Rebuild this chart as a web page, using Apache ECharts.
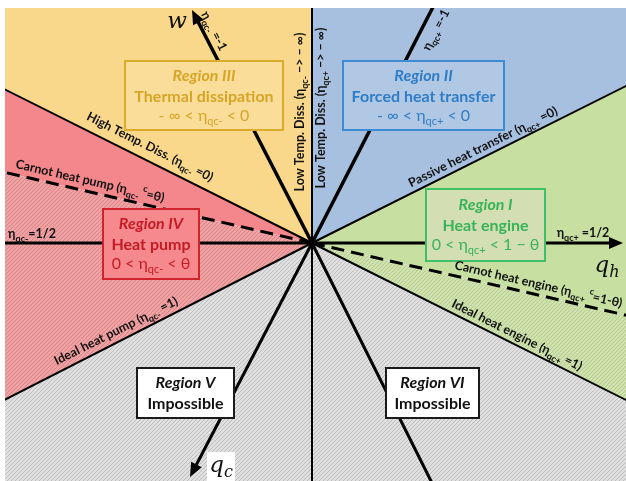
<!DOCTYPE html>
<html>
<head>
<meta charset="utf-8">
<script src="https://cdn.jsdelivr.net/npm/echarts@6/dist/echarts.min.js"></script>
<style>
  html, body { margin: 0; padding: 0; background: #ffffff; }
  #chart { width: 626px; height: 481px; }
</style>
</head>
<body>
<div id="chart"></div>
<script>
// Energy plane: every process line starts at the origin (q_h = 0, w = 0).
// One plane unit is drawn as 100 px in both directions.
const xExtent = [-3.07, 3.14];
const yExtent = [-2.38, 2.35];

// Process lines (end points in plane units; lines running off the plane are clipped)
const rayIds  = ['w', 'etaPlusNeg1', 'qc', 'lowerRight', 'qh', 'etaMinusHalf', 'lowTempDiss', 'lowerMid',
                 'highTempDiss', 'passive', 'carnotPump', 'carnotEngine', 'idealPump', 'idealEngine'];
const rayEndX = [-1.20, 2.42, -1.22, 2.38, 3.11, -4.00, 0.00, 0.00, -4.00, 4.00, -4.00, 4.00, -4.00, 4.00];
const rayEndY = [ 2.33, 4.72, -2.34, -4.76, 0.00, 0.00, 4.00, -4.00, 2.00, 2.00, 0.92, -0.92, -2.04, -2.00];

// Operating regions, each a sector swept counter-clockwise from one line to another
const regionIds   = ['thermalDissipation', 'forcedHeatTransfer', 'heatEngine', 'heatEngineBeyondCarnot',
                     'heatPump', 'heatPumpBeyondCarnot', 'impossible'];
const regionFrom  = ['lowTempDiss', 'passive', 'carnotEngine', 'idealEngine', 'highTempDiss', 'carnotPump', 'idealPump'];
const regionTo    = ['highTempDiss', 'lowTempDiss', 'passive', 'carnotEngine', 'carnotPump', 'idealPump', 'idealEngine'];

// Line labels ({...} = subscript, [...] = superscript)
const lineLabels = [
  'η{qc-} =-1',
  'η{qc+} =-1',
  'Low Temp. Diss. (η{qc-} –> – ∞)',
  'Low Temp. Diss. (η{qc+} –> – ∞)',
  'High Temp. Diss. (η{qc-} =0)',
  'Carnot heat pump (η{qc-} [c]=θ)',
  'η{qc-}=1/2',
  'Ideal heat pump (η{qc-} =1)',
  'Passive heat transfer (η{qc+} =0)',
  'η{qc+} =1/2',
  'Carnot heat engine (η{qc+} [c]=1-θ)',
  'Ideal heat engine (η{qc+} =1)'
];

// Region boxes: title, name, efficiency range
const boxTitles = ['Region III', 'Region II', 'Region IV', 'Region I', 'Region V', 'Region VI'];
const boxNames  = ['Thermal dissipation', 'Forced heat transfer', 'Heat pump', 'Heat engine', 'Impossible', 'Impossible'];
const boxRanges = ['- ∞ < η{qc-} < 0', '- ∞ < η{qc+} < 0', '0 < η{qc-} < θ', '0 < η{qc+} < 1 − θ', '', ''];

// ---------- layout & styling ----------
const labelLayout = [
  { x: -0.98, y: 2.12, rot: -62.7 },
  { x:  1.24, y: 2.13, rot:  62.7 },
  { x: -0.12, y: 1.31, rot:  90 },
  { x:  0.09, y: 1.35, rot:  90 },
  { x: -1.62, y: 0.96, rot: -26.6 },
  { x: -2.22, y: 0.62, rot: -13 },
  { x: -2.80, y: 0.09, rot:   0 },
  { x: -1.96, y: -0.88, rot: 26.6 },
  { x:  1.71, y: 0.96, rot:  26.6 },
  { x:  2.71, y: 0.10, rot:   0 },
  { x:  1.43, y: -0.22, rot: -13, align: 'left' },
  { x:  2.05, y: -0.92, rot: -26.6 }
];

const boxLayout = [
  { x: -1.08,  y: 1.475, w: 158, h: 69, fill: '#fbdd9a', stroke: '#dbab2c', text: '#d6a526' },
  { x:  1.115, y: 1.475, w: 161, h: 69, fill: '#b1c8e5', stroke: '#3d8bd3', text: '#2f7dc6' },
  { x: -1.61,  y: -0.01, w: 96,  h: 70, fill: '#f5898d', stroke: '#d0232b', text: '#c41b24' },
  { x:  1.735, y: 0.18,  w: 119, h: 72, fill: '#d3dfb3', stroke: '#3fbf66', text: '#38b35a' },
  { x: -1.265, y: -1.50, w: 97,  h: 50, fill: '#ffffff', stroke: '#1a1a1a', text: '#111111' },
  { x:  1.205, y: -1.50, w: 93,  h: 50, fill: '#ffffff', stroke: '#1a1a1a', text: '#111111' }
];

const rayStyle = {
  w:            { width: 3.5, arrow: true },
  etaPlusNeg1:  { width: 3.5 },
  qc:           { width: 3, arrow: true },
  lowerRight:   { width: 3 },
  qh:           { width: 3, arrow: true },
  etaMinusHalf: { width: 3 },
  lowTempDiss:  { width: 2 },
  lowerMid:     { width: 2 },
  highTempDiss: { width: 2 },
  passive:      { width: 2 },
  carnotPump:   { width: 3, dash: [13, 7] },
  carnotEngine: { width: 3, dash: [13, 7] },
  idealPump:    { width: 2 },
  idealEngine:  { width: 2 }
};

function hatch(bg, fg) {
  const n = 4;
  const c = document.createElement('canvas');
  c.width = n; c.height = n;
  const g = c.getContext('2d');
  g.fillStyle = bg; g.fillRect(0, 0, n, n);
  g.fillStyle = fg;
  for (let k = 0; k < n; k++) {
    g.fillRect(k, n - 1 - k, 1, 1);
  }
  return { image: c, repeat: 'repeat' };
}

const regionFill = {
  thermalDissipation:     '#f9d88b',
  forcedHeatTransfer:     '#a8c0df',
  heatEngine:             '#c7e0a1',
  heatEngineBeyondCarnot: hatch('#cfe2ae', '#b4cb92'),
  heatPump:               '#f3878b',
  heatPumpBeyondCarnot:   hatch('#eea2a4', '#dc8386'),
  impossible:             hatch('#e0e0e0', '#bdbdbd')
};

const SANS = 'Lato, "Open Sans", sans-serif';
const SERIF = '"DejaVu Serif", "Liberation Serif", serif';

// Turn the small markup into ECharts rich text
function richText(markup) {
  let out = '', buf = '', mode = 'm';
  const flush = () => { if (buf) out += '{' + mode + '|' + buf + '}'; buf = ''; };
  for (const ch of markup) {
    if (ch === '{') { flush(); mode = 's'; }
    else if (ch === '[') { flush(); mode = 'p'; }
    else if (ch === '}' || ch === ']') { flush(); mode = 'm'; }
    else buf += ch;
  }
  flush();
  return out;
}

function richStyles(size, weight, color, family, italic) {
  const sub = Math.round(size * 0.68);
  const base = { fontFamily: family, fontWeight: weight, fontStyle: italic ? 'italic' : 'normal', fill: color };
  return {
    m: Object.assign({}, base, { fontSize: size, lineHeight: size + 6 }),
    s: Object.assign({}, base, { fontSize: sub, lineHeight: sub, verticalAlign: 'bottom' }),
    p: Object.assign({}, base, { fontSize: sub, lineHeight: sub, verticalAlign: 'top' })
  };
}

function rayAngle(id) {
  const i = rayIds.indexOf(id);
  return Math.atan2(rayEndY[i], rayEndX[i]) * 180 / Math.PI;
}

const chart = echarts.init(document.getElementById('chart'));

chart.setOption({
  animation: false,
  backgroundColor: '#ffffff',
  grid: { left: 5, top: 8, right: 0, bottom: 0 },
  xAxis: { type: 'value', min: xExtent[0], max: xExtent[1], show: false },
  yAxis: { type: 'value', min: yExtent[0], max: yExtent[1], show: false },
  series: [
    {
      // region fills
      type: 'custom',
      clip: true,
      silent: true,
      data: regionIds.map((_, i) => [i, 0]),
      renderItem(params, api) {
        const i = params.dataIndex;
        let a0 = rayAngle(regionFrom[i]);
        let a1 = rayAngle(regionTo[i]);
        if (a1 <= a0) a1 += 360;
        const R = 10;
        const pts = [api.coord([0, 0])];
        for (let t = a0; t < a1; t += 4) {
          const r = t * Math.PI / 180;
          pts.push(api.coord([R * Math.cos(r), R * Math.sin(r)]));
        }
        const r1 = a1 * Math.PI / 180;
        pts.push(api.coord([R * Math.cos(r1), R * Math.sin(r1)]));
        return { type: 'polygon', shape: { points: pts }, style: { fill: regionFill[regionIds[i]] } };
      }
    },
    {
      // process lines and axes
      type: 'custom',
      clip: true,
      silent: true,
      data: rayIds.map((_, i) => [rayEndX[i], rayEndY[i]]),
      renderItem(params, api) {
        const i = params.dataIndex;
        const st = rayStyle[rayIds[i]];
        const o = api.coord([0, 0]);
        const e = api.coord([rayEndX[i], rayEndY[i]]);
        const dx = e[0] - o[0], dy = e[1] - o[1];
        const len = Math.hypot(dx, dy);
        const ux = dx / len, uy = dy / len;
        const children = [];
        const headLen = 14, headHalf = 6;
        const end = st.arrow ? [e[0] - ux * headLen * 0.7, e[1] - uy * headLen * 0.7] : e;
        children.push({
          type: 'line',
          shape: { x1: o[0], y1: o[1], x2: end[0], y2: end[1] },
          style: { stroke: '#000000', lineWidth: st.width, lineDash: st.dash || null, fill: null }
        });
        if (st.arrow) {
          const bx = e[0] - ux * headLen, by = e[1] - uy * headLen;
          children.push({
            type: 'polygon',
            shape: { points: [e, [bx - uy * headHalf, by + ux * headHalf], [bx + uy * headHalf, by - ux * headHalf]] },
            style: { fill: '#000000' }
          });
        }
        return { type: 'group', children };
      }
    },
    {
      // region boxes
      type: 'custom',
      silent: true,
      data: boxTitles.map((_, i) => [boxLayout[i].x, boxLayout[i].y]),
      renderItem(params, api) {
        const i = params.dataIndex;
        const L = boxLayout[i];
        const c = api.coord([L.x, L.y]);
        const children = [{
          type: 'rect',
          shape: { x: c[0] - L.w / 2, y: c[1] - L.h / 2, width: L.w, height: L.h },
          style: { fill: L.fill, stroke: L.stroke, lineWidth: 2 }
        }];
        const three = !!boxRanges[i];
        const offs = three ? [-20, 1, 20] : [-10, 11];
        const lines = [
          { t: boxTitles[i], size: 16, weight: 'bold', italic: true },
          { t: boxNames[i], size: 16, weight: 'bold', italic: false }
        ];
        if (three) lines.push({ t: boxRanges[i], size: 16, weight: 'normal', italic: false });
        lines.forEach((ln, k) => {
          children.push({
            type: 'text',
            x: c[0], y: c[1] + offs[k],
            style: {
              text: richText(ln.t),
              rich: richStyles(ln.size, ln.weight, L.text, SANS, ln.italic),
              align: 'center', verticalAlign: 'middle'
            }
          });
        });
        return { type: 'group', children };
      }
    },
    {
      // line labels
      type: 'custom',
      silent: true,
      data: lineLabels.map((_, i) => [labelLayout[i].x, labelLayout[i].y]),
      renderItem(params, api) {
        const i = params.dataIndex;
        const L = labelLayout[i];
        const c = api.coord([L.x, L.y]);
        return {
          type: 'text',
          x: c[0], y: c[1],
          rotation: L.rot * Math.PI / 180,
          style: {
            text: richText(lineLabels[i]),
            rich: richStyles(12.5, 'bold', '#111111', SANS, false),
            align: L.align || 'center', verticalAlign: 'middle'
          }
        };
      }
    },
    {
      // axis names
      type: 'custom',
      silent: true,
      data: [[-1.35, 2.21], [2.95, -0.23], [-0.91, -2.23]],
      renderItem(params, api) {
        const names = ['w', 'q{h}', 'q{c}'];
        const i = params.dataIndex;
        const c = api.coord([api.value(0), api.value(1)]);
        const children = [];
        if (i === 2) {
          children.push({ type: 'rect', shape: { x: c[0] - 14, y: c[1] - 14, width: 28, height: 30 }, style: { fill: '#ffffff' } });
        }
        children.push({
          type: 'text', x: c[0], y: c[1],
          style: {
            text: richText(names[i]),
            rich: richStyles(23, 'normal', '#111111', SERIF, true),
            align: 'center', verticalAlign: 'middle'
          }
        });
        return { type: 'group', children };
      }
    }
  ]
});
</script>
</body>
</html>
